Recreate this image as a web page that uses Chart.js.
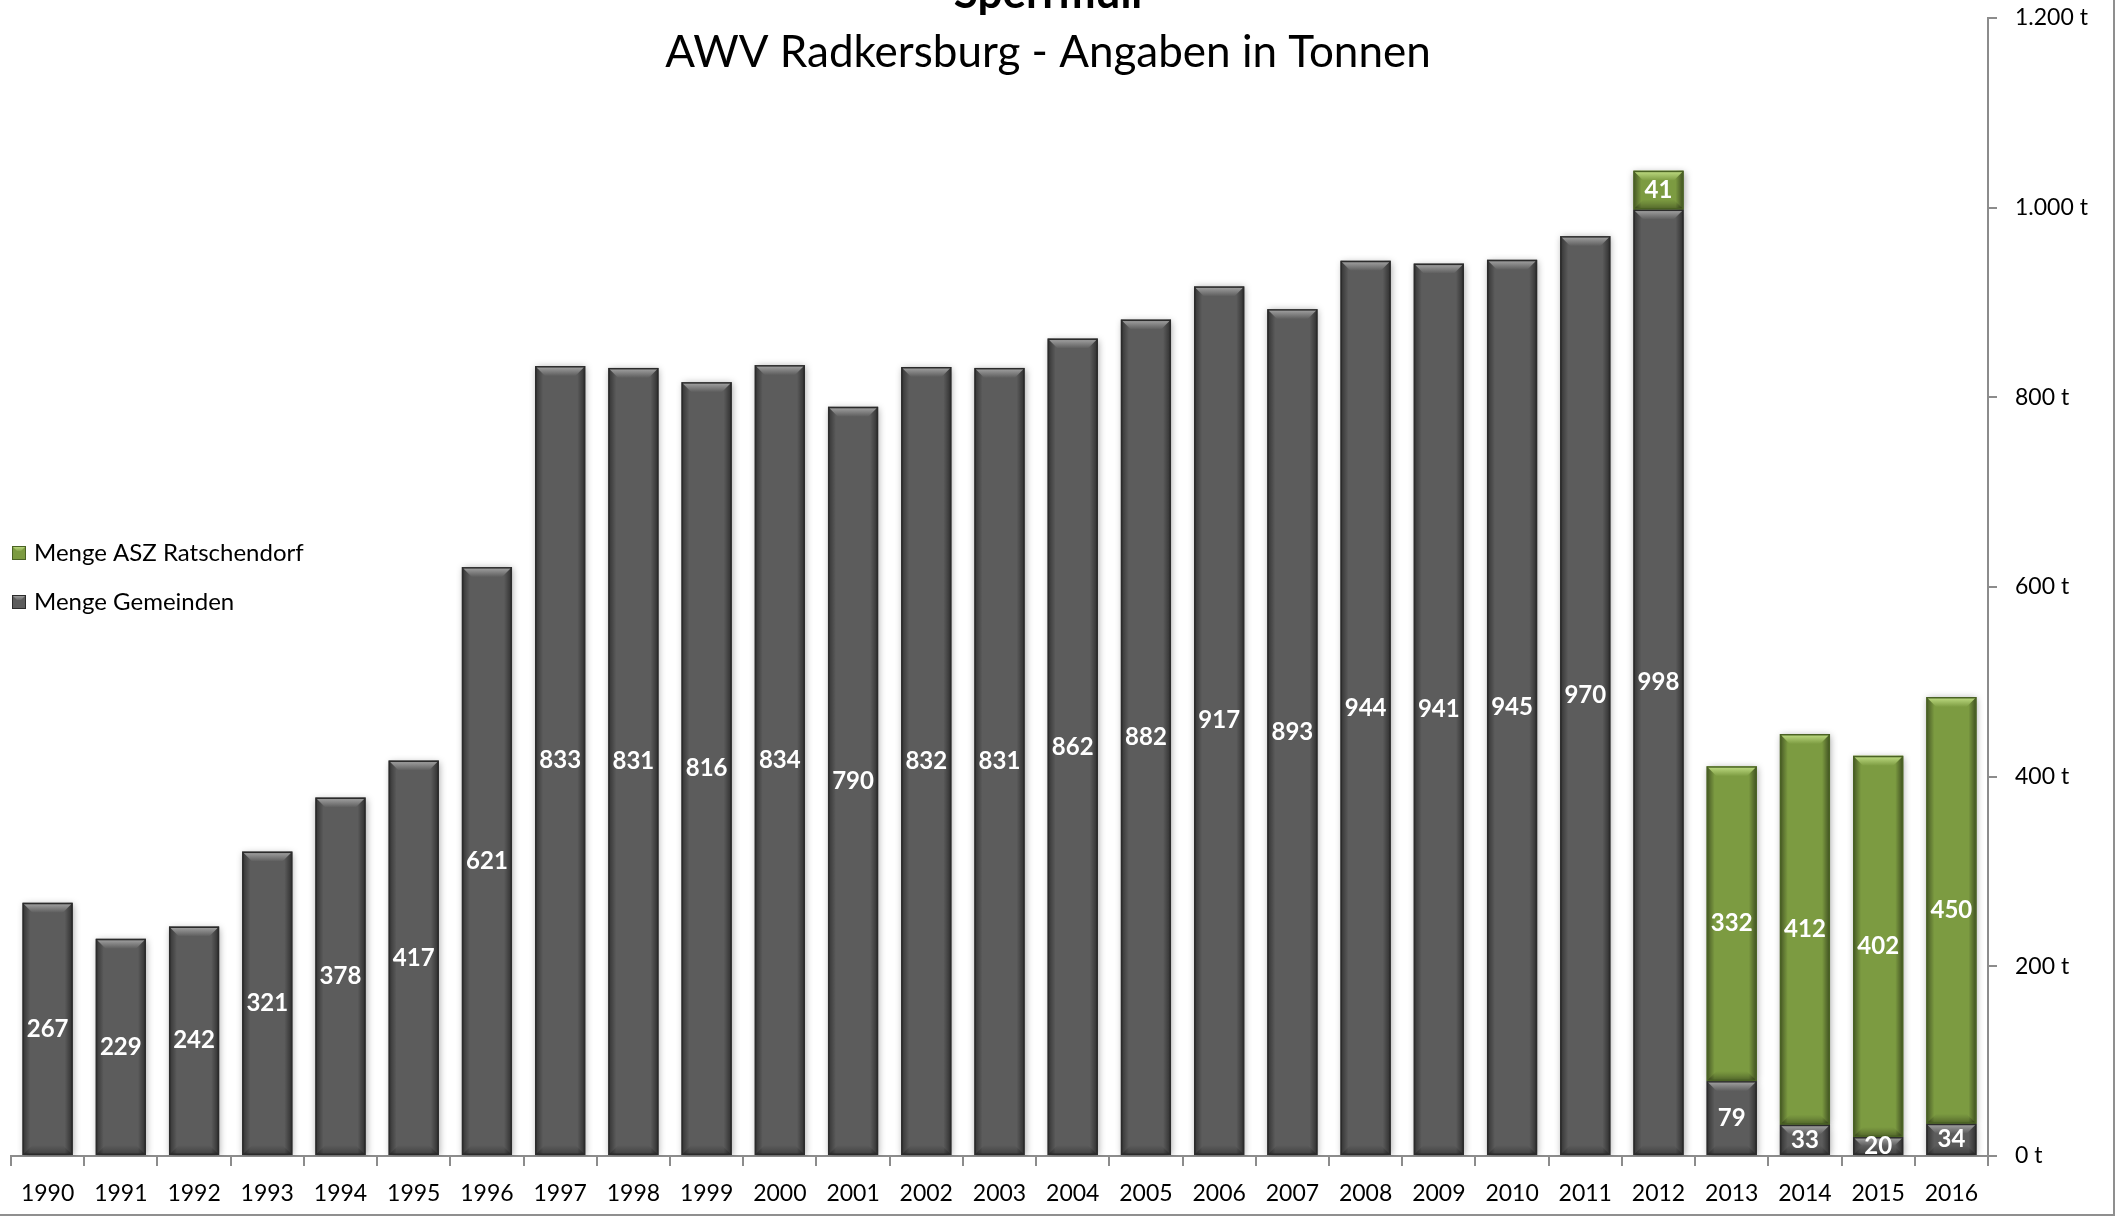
<!DOCTYPE html>
<html>
<head>
<meta charset="utf-8">
<script src="https://cdn.jsdelivr.net/npm/chart.js@4.4.1/dist/chart.umd.min.js"></script>
<style>
  html, body { margin: 0; padding: 0; background: #fff; }
  #wrap {
    position: relative;
    width: 2115px;
    height: 1216px;
    box-sizing: border-box;
    border-right: 2px solid #8f8f8f;
    border-bottom: 2px solid #8f8f8f;
  }
</style>
</head>
<body>
<div id="wrap"><canvas id="chart"></canvas></div>
<script>
// Werte
const years = ['1990', '1991', '1992', '1993', '1994', '1995', '1996', '1997', '1998', '1999',
  '2000', '2001', '2002', '2003', '2004', '2005', '2006', '2007', '2008', '2009',
  '2010', '2011', '2012', '2013', '2014', '2015', '2016'];
const gemeinden = [267, 229, 242, 321, 378, 417, 621, 833, 831, 816,
  834, 790, 832, 831, 862, 882, 917, 893, 944, 941,
  945, 970, 998, 79, 33, 20, 34];
const asz = [null, null, null, null, null, null, null, null, null, null,
  null, null, null, null, null, null, null, null, null, null,
  null, null, 41, 332, 412, 402, 450];
const yTicks = [0, 200, 400, 600, 800, 1000, 1200];

const titleText = 'Sperrmüll';
const subtitleText = 'AWV Radkersburg - Angaben in Tonnen';

const FONT = 'Lato, "Open Sans", sans-serif';

// colours for each series: body, light bevel
const shades = {
  gray: { body: '#5c5c5c', light: '#a8a8a8', dark: '#2b2b2b' },
  green: { body: '#7c9b41', light: '#c3e087', dark: '#4a6224' }
};

function fmt(v) {
  return String(v).replace(/\B(?=(\d{3})+(?!\d))/g, '.') + ' t';
}

// Bevel look + value labels on every bar segment
const barLook = {
  id: 'barLook',
  beforeDatasetsDraw(chart) {
    const c = chart.ctx;
    c.save();
    c.shadowColor = 'rgba(0,0,0,0.35)';
    c.shadowBlur = 7;
    c.shadowOffsetX = 1;
    c.shadowOffsetY = 1;
  },
  afterDatasetsDraw(chart) {
    const c = chart.ctx;
    c.restore();

    chart.data.datasets.forEach(function (ds, di) {
      const meta = chart.getDatasetMeta(di);
      const sh = shades[ds.shade];
      meta.data.forEach(function (el, i) {
        if (ds.data[i] == null) return;
        const w = el.width;
        const left = el.x - w / 2;
        const right = el.x + w / 2;
        const top = Math.min(el.y, el.base);
        const bottom = Math.max(el.y, el.base);
        const h = bottom - top;
        const b = Math.min(10, h / 2);

        // dark sides
        let g = c.createLinearGradient(left, 0, left + 8, 0);
        g.addColorStop(0, 'rgba(0,0,0,0.45)');
        g.addColorStop(1, 'rgba(0,0,0,0)');
        c.fillStyle = g;
        c.fillRect(left, top, 8, h);
        g = c.createLinearGradient(right, 0, right - 8, 0);
        g.addColorStop(0, 'rgba(0,0,0,0.5)');
        g.addColorStop(1, 'rgba(0,0,0,0)');
        c.fillStyle = g;
        c.fillRect(right - 8, top, 8, h);

        // bottom band
        g = c.createLinearGradient(0, bottom - b, 0, bottom);
        g.addColorStop(0, 'rgba(0,0,0,0)');
        g.addColorStop(1, 'rgba(0,0,0,0.3)');
        c.fillStyle = g;
        c.beginPath();
        c.moveTo(left + b, bottom - b);
        c.lineTo(right - b, bottom - b);
        c.lineTo(right, bottom);
        c.lineTo(left, bottom);
        c.closePath();
        c.fill();

        // top bevel
        g = c.createLinearGradient(0, top, 0, top + b);
        g.addColorStop(0, sh.light);
        g.addColorStop(1, sh.body);
        c.fillStyle = g;
        c.beginPath();
        c.moveTo(left, top);
        c.lineTo(right, top);
        c.lineTo(right - b, top + b);
        c.lineTo(left + b, top + b);
        c.closePath();
        c.fill();

        // outline
        c.strokeStyle = sh.dark;
        c.lineWidth = 1.5;
        c.strokeRect(left + 0.75, top + 0.75, w - 1.5, h - 1.5);
      });
    });

    // value labels
    c.save();
    c.fillStyle = '#ffffff';
    c.font = 'bold 24px ' + FONT;
    c.textAlign = 'center';
    c.textBaseline = 'middle';
    chart.data.datasets.forEach(function (ds, di) {
      const meta = chart.getDatasetMeta(di);
      meta.data.forEach(function (el, i) {
        const v = ds.data[i];
        if (v == null) return;
        c.fillText(String(v), el.x, (el.y + el.base) / 2);
      });
    });
    c.restore();
  }
};

// Titles and legend drawn over the plot like in the original
const overlay = {
  id: 'overlay',
  afterDraw(chart) {
    const c = chart.ctx;
    c.save();
    c.fillStyle = '#000';
    c.textAlign = 'center';
    c.textBaseline = 'alphabetic';
    c.font = 'bold 44px ' + FONT;
    c.fillText(titleText, 1048, 8);
    c.font = '44px ' + FONT;
    c.fillText(subtitleText, 1048, 67);

    // legend, ASZ on top
    const items = chart.data.datasets.slice().reverse();
    c.textAlign = 'left';
    c.textBaseline = 'middle';
    c.font = '24px ' + FONT;
    items.forEach(function (ds, k) {
      const sh = shades[ds.shade];
      const y = 553 + k * 49;
      const bx = 12, by = y - 7, s = 14;
      c.fillStyle = sh.body;
      c.fillRect(bx, by, s, s);
      const g = c.createLinearGradient(0, by, 0, by + 6);
      g.addColorStop(0, sh.light);
      g.addColorStop(1, sh.body);
      c.fillStyle = g;
      c.beginPath();
      c.moveTo(bx, by);
      c.lineTo(bx + s, by);
      c.lineTo(bx + s - 5, by + 5);
      c.lineTo(bx + 5, by + 5);
      c.closePath();
      c.fill();
      c.strokeStyle = sh.dark;
      c.lineWidth = 1;
      c.strokeRect(bx + 0.5, by + 0.5, s - 1, s - 1);
      c.fillStyle = '#000';
      c.fillText(ds.label, 34, y);
    });
    c.restore();
  }
};

new Chart(document.getElementById('chart'), {
  type: 'bar',
  data: {
    labels: years,
    datasets: [
      {
        label: 'Menge Gemeinden',
        data: gemeinden,
        shade: 'gray',
        backgroundColor: shades.gray.body,
        borderWidth: 0
      },
      {
        label: 'Menge ASZ Ratschendorf',
        data: asz,
        shade: 'green',
        backgroundColor: shades.green.body,
        borderWidth: 0
      }
    ]
  },
  options: {
    responsive: true,
    maintainAspectRatio: false,
    animation: false,
    layout: { padding: { left: 11, top: 18, right: 0, bottom: 0 } },
    datasets: {
      bar: { categoryPercentage: 1, barPercentage: 0.685 }
    },
    plugins: {
      legend: { display: false },
      title: { display: false },
      tooltip: { enabled: false }
    },
    scales: {
      x: {
        stacked: true,
        offset: true,
        grid: {
          offset: true,
          drawOnChartArea: false,
          tickLength: 10,
          color: '#8c8c8c',
          lineWidth: 2
        },
        border: { color: '#8c8c8c', width: 2 },
        ticks: {
          color: '#000',
          font: { family: FONT, size: 23 },
          padding: 14,
          maxRotation: 0,
          autoSkip: false
        },
        afterFit(s) { s.height = 58; }
      },
      y: {
        stacked: true,
        position: 'right',
        min: 0,
        max: 1200,
        afterBuildTicks(axis) {
          axis.ticks = yTicks.map(function (v) { return { value: v }; });
        },
        grid: {
          drawOnChartArea: false,
          tickLength: 9,
          color: '#8c8c8c',
          lineWidth: 2
        },
        border: { color: '#8c8c8c', width: 2 },
        ticks: {
          color: '#000',
          font: { family: FONT, size: 23 },
          padding: 18,
          callback: function (v) { return fmt(v); }
        },
        afterFit(s) { s.width = 125; s.paddingTop = 0; s.paddingBottom = 0; }
      }
    }
  },
  plugins: [barLook, overlay]
});
</script>
</body>
</html>
